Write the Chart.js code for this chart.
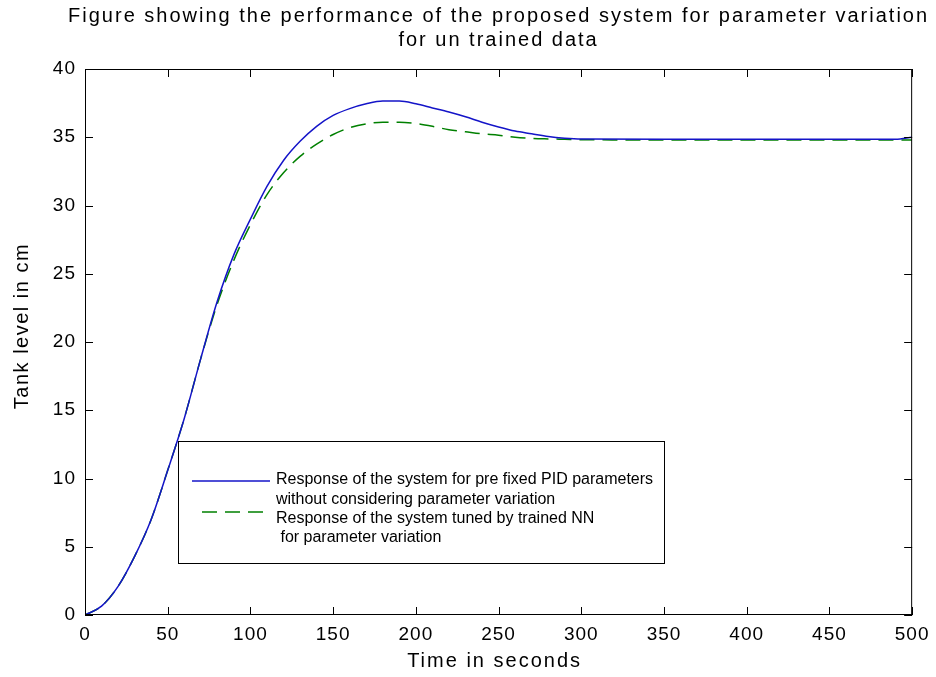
<!DOCTYPE html>
<html>
<head>
<meta charset="utf-8">
<script src="https://cdn.jsdelivr.net/npm/chart.js@4.4.0/dist/chart.umd.min.js"></script>
<style>
    html, body { margin: 0; padding: 0; background: #fff; }
    #wrap { width: 936px; height: 677px; }
</style>
</head>
<body>
<div id="wrap"><canvas id="tankChart" width="936" height="677"></canvas></div>
<script>
/* Data */
const timeSec = [0, 10, 20, 30, 40, 50, 60, 70, 80, 90, 100, 110, 120, 130, 140, 150, 160, 170, 180, 190,
    200, 210, 220, 230, 240, 250, 260, 270, 280, 290, 300, 350, 400, 450, 490, 500];
const fixedPid = [0, 0.65, 2.1, 4.3, 7.0, 10.6, 14.4, 18.8, 23.0, 26.4, 29.0, 31.4, 33.3, 34.7, 35.8, 36.6, 37.1, 37.45, 37.65, 37.65,
    37.45, 37.15, 36.85, 36.5, 36.1, 35.75, 35.45, 35.25, 35.05, 34.93, 34.87, 34.85, 34.85, 34.85, 34.85, 35.0];
const trainedNn = [0, 0.65, 2.1, 4.3, 7.0, 10.6, 14.4, 18.8, 22.8, 26.0, 28.6, 30.8, 32.4, 33.6, 34.5, 35.2, 35.7, 35.98, 36.1, 36.1,
    36.0, 35.8, 35.55, 35.4, 35.25, 35.15, 35.0, 34.92, 34.88, 34.85, 34.82, 34.8, 34.8, 34.8, 34.8, 34.8];

const xTicks = [0, 50, 100, 150, 200, 250, 300, 350, 400, 450, 500];
const yTicks = [0, 5, 10, 15, 20, 25, 30, 35, 40];

const titleLines = [
    'Figure showing the performance of the proposed system for parameter variation',
    'for un trained data'
];
const xTitle = 'Time in seconds';
const yTitle = 'Tank level in cm';
const legendLines = [
    ['Response of the system for pre fixed PID parameters', 'without considering parameter variation'],
    ['Response of the system tuned by trained NN', ' for parameter variation']
];

const BLUE = 'rgb(20, 20, 200)';
const GREEN = 'rgb(0, 128, 0)';
const FONT = "'Liberation Sans', Arial, sans-serif";

function toPoints(xs, ys) {
    return xs.map((x, i) => ({ x: x, y: ys[i] }));
}

/* Box, inward ticks, titles and legend drawn the MATLAB way */
const matlabFrame = {
    id: 'matlabFrame',
    beforeDraw(chart) {
        // wider spacing for the tick labels, like the old figure
        chart.ctx.letterSpacing = '1px';
    },
    afterDraw(chart) {
        const ctx = chart.ctx;
        const area = chart.chartArea;
        const xs = chart.scales.x;
        const ys = chart.scales.y;
        const tick = 8;

        ctx.save();
        ctx.letterSpacing = '0px';
        ctx.strokeStyle = '#000';
        ctx.lineWidth = 1;
        ctx.strokeRect(area.left + 0.5, area.top + 0.5, area.right - area.left - 1, area.bottom - area.top - 1);

        ctx.beginPath();
        xTicks.forEach(v => {
            const px = Math.round(xs.getPixelForValue(v)) + 0.5;
            ctx.moveTo(px, area.bottom);
            ctx.lineTo(px, area.bottom - tick);
            ctx.moveTo(px, area.top);
            ctx.lineTo(px, area.top + tick);
        });
        yTicks.forEach(v => {
            const py = Math.round(ys.getPixelForValue(v)) + 0.5;
            ctx.moveTo(area.left, py);
            ctx.lineTo(area.left + tick, py);
            ctx.moveTo(area.right, py);
            ctx.lineTo(area.right - tick, py);
        });
        ctx.stroke();

        // title
        ctx.fillStyle = '#000';
        ctx.textAlign = 'center';
        ctx.textBaseline = 'middle';
        ctx.font = '20px ' + FONT;
        ctx.letterSpacing = '2px';
        const cx = (area.left + area.right) / 2;
        ctx.fillText(titleLines[0], cx, 16);
        ctx.fillText(titleLines[1], cx, 40);

        // axis titles
        ctx.fillText(xTitle, cx - 4, 661);
        ctx.save();
        ctx.translate(22, 326);
        ctx.rotate(-Math.PI / 2);
        ctx.letterSpacing = '1.5px';
        ctx.fillText(yTitle, 0, 0);
        ctx.restore();
        ctx.letterSpacing = '0px';

        // legend
        const lg = { left: 178, top: 441, width: 486, height: 122 };
        ctx.fillStyle = '#fff';
        ctx.fillRect(lg.left, lg.top, lg.width, lg.height);
        ctx.strokeStyle = '#000';
        ctx.lineWidth = 1;
        ctx.strokeRect(lg.left + 0.5, lg.top + 0.5, lg.width, lg.height);

        ctx.lineWidth = 1.5;
        ctx.strokeStyle = BLUE;
        ctx.beginPath();
        ctx.moveTo(192, 481);
        ctx.lineTo(270, 481);
        ctx.stroke();

        ctx.strokeStyle = GREEN;
        ctx.setLineDash([15, 8]);
        ctx.beginPath();
        ctx.moveTo(202, 512);
        ctx.lineTo(270, 512);
        ctx.stroke();
        ctx.setLineDash([]);

        ctx.fillStyle = '#000';
        ctx.textAlign = 'left';
        ctx.font = '16px ' + FONT;
        ctx.fillText(legendLines[0][0], 276, 480);
        ctx.fillText(legendLines[0][1], 276, 500);
        ctx.fillText(legendLines[1][0], 276, 519);
        ctx.fillText(legendLines[1][1], 276, 538);
        ctx.restore();
    }
};

const config = {
    type: 'line',
    data: {
        datasets: [
            {
                label: legendLines[0].join(' '),
                data: toPoints(timeSec, fixedPid),
                borderColor: BLUE,
                borderWidth: 1.5,
                pointRadius: 0,
                fill: false,
                cubicInterpolationMode: 'monotone'
            },
            {
                label: legendLines[1].join(' '),
                data: toPoints(timeSec, trainedNn),
                borderColor: GREEN,
                borderWidth: 1.5,
                borderDash: [15, 8],
                pointRadius: 0,
                fill: false,
                cubicInterpolationMode: 'monotone'
            }
        ]
    },
    options: {
        responsive: false,
        animation: false,
        devicePixelRatio: 1,
        layout: { padding: { left: 0, right: 23, top: 69, bottom: 0 } },
        plugins: {
            legend: { display: false },
            tooltip: { enabled: false },
            title: { display: false }
        },
        scales: {
            x: {
                type: 'linear',
                min: 0,
                max: 500,
                afterBuildTicks: s => { s.ticks = xTicks.map(v => ({ value: v })); },
                afterFit: s => { s.height = 62; },
                grid: { display: false, drawTicks: false },
                border: { display: false },
                ticks: { color: '#000', font: { family: FONT, size: 19 }, padding: 8, maxRotation: 0 }
            },
            y: {
                min: 0,
                max: 40,
                afterBuildTicks: s => { s.ticks = yTicks.map(v => ({ value: v })); },
                afterFit: s => { s.width = 85; },
                grid: { display: false, drawTicks: false },
                border: { display: false },
                ticks: { color: '#000', font: { family: FONT, size: 19 }, padding: 9 }
            }
        }
    },
    plugins: [matlabFrame]
};

let tankChart = new Chart(document.getElementById('tankChart'), config);
</script>
</body>
</html>
